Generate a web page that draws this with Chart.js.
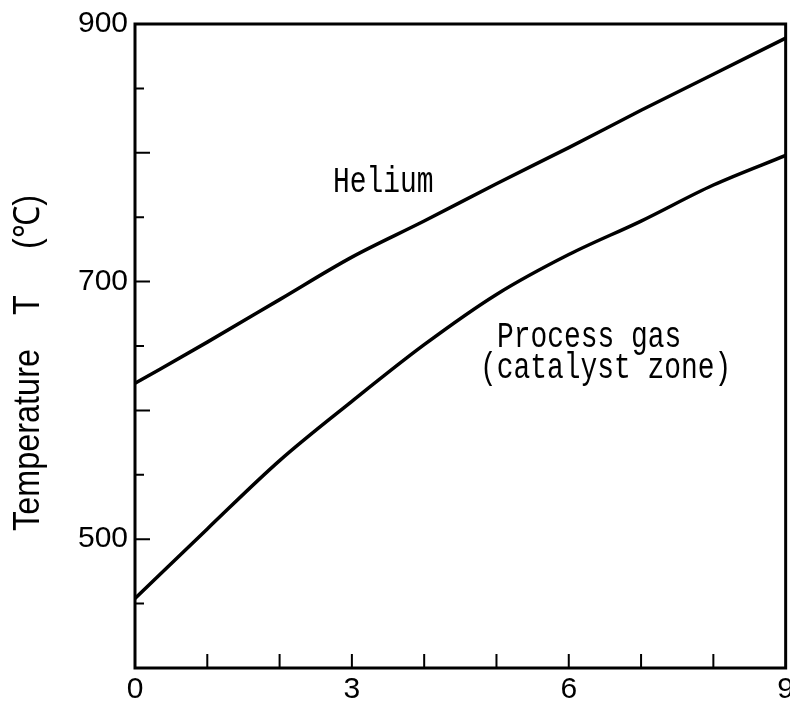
<!DOCTYPE html>
<html>
<head>
<meta charset="utf-8">
<script src="https://cdn.jsdelivr.net/npm/chart.js@4"></script>
<style>
  html, body { margin: 0; padding: 0; background: #fff; }
  #wrap { width: 790px; height: 706px; }
</style>
</head>
<body>
<div id="wrap"><canvas id="chart" width="790" height="706"></canvas></div>
<script>
// Distance (x axis, no label in the source) and temperatures
const distance = [0, 1, 2, 3, 4, 5, 6, 7, 8, 9];
const helium = [621, 653, 686, 719, 747, 776, 804, 833, 861, 889];
const processGas = [454, 508, 561, 607, 651, 690, 721, 747, 775, 798];
const xTickLabels = [0, 3, 6, 9];
const yTickLabels = [500, 700, 900];

const narrow = '"Liberation Sans Narrow", "Liberation Sans", sans-serif';

function toPoints(values) {
    return distance.map((d, i) => ({ x: d, y: values[i] }));
}

// Frame, inward tick marks, axis title and curve labels
const decorPlugin = {
    id: 'decor',
    afterDraw(chart) {
        const ctx = chart.ctx;
        const area = chart.chartArea;
        const xs = chart.scales.x;
        const ys = chart.scales.y;
        ctx.save();
        ctx.strokeStyle = '#000';
        ctx.lineWidth = 3;
        ctx.strokeRect(area.left, area.top, area.right - area.left, area.bottom - area.top);

        ctx.lineWidth = 2;
        ctx.beginPath();
        ys.ticks.forEach(t => {
            if (t.value <= ys.min || t.value >= ys.max) return;
            const py = ys.getPixelForValue(t.value);
            const len = t.value % 100 === 0 ? 15 : 9;
            ctx.moveTo(area.left, py);
            ctx.lineTo(area.left + len, py);
        });
        xs.ticks.forEach(t => {
            if (t.value <= xs.min || t.value >= xs.max) return;
            const px = xs.getPixelForValue(t.value);
            ctx.moveTo(px, area.bottom);
            ctx.lineTo(px, area.bottom - 14);
        });
        ctx.stroke();

        // rotated y title, narrowed a little
        ctx.fillStyle = '#000';
        ctx.font = '36px ' + narrow;
        ctx.textAlign = 'center';
        ctx.textBaseline = 'middle';
        const parts = [['Temperature', 440], ['T', 305], ['(\u2103)', 222]];
        parts.forEach(p => {
            ctx.save();
            ctx.translate(29, p[1]);
            ctx.rotate(-Math.PI / 2);
            ctx.scale(0.9, 1);
            ctx.fillText(p[0], 0, 0);
            ctx.restore();
        });

        // curve labels (typewriter style)
        ctx.textAlign = 'left';
        ctx.textBaseline = 'alphabetic';
        ctx.font = '36px "Liberation Mono", "DejaVu Sans Mono", monospace';
        const labels = [['Helium', 333, 192], ['Process gas', 497, 347], ['(catalyst zone)', 480, 378]];
        labels.forEach(l => {
            ctx.save();
            ctx.translate(l[1], l[2]);
            ctx.scale(0.775, 1);
            ctx.fillText(l[0], 0, 0);
            ctx.restore();
        });
        ctx.restore();
    }
};

const chart = new Chart(document.getElementById('chart'), {
    type: 'line',
    data: {
        datasets: [
            {
                label: 'Helium',
                data: toPoints(helium),
                borderColor: '#000',
                borderWidth: 3.5,
                pointRadius: 0,
                cubicInterpolationMode: 'monotone'
            },
            {
                label: 'Process gas (catalyst zone)',
                data: toPoints(processGas),
                borderColor: '#000',
                borderWidth: 3.5,
                pointRadius: 0,
                cubicInterpolationMode: 'monotone'
            }
        ]
    },
    options: {
        responsive: false,
        animation: false,
        layout: { padding: { top: 24, right: 4, left: 0, bottom: 0 } },
        plugins: {
            legend: { display: false },
            tooltip: { enabled: false }
        },
        scales: {
            x: {
                type: 'linear',
                min: 0,
                max: 9,
                grid: { display: false },
                border: { display: false },
                afterFit: s => { s.height = 38; },
                ticks: {
                    stepSize: 1,
                    padding: -4,
                    color: '#000',
                    font: { family: narrow, size: 30 },
                    maxRotation: 0,
                    autoSkip: false,
                    callback: v => xTickLabels.includes(v) ? String(v) : ''
                }
            },
            y: {
                min: 400,
                max: 900,
                grid: { display: false },
                border: { display: false },
                afterFit: s => { s.width = 135; },
                ticks: {
                    stepSize: 50,
                    padding: -1,
                    color: '#000',
                    font: { family: narrow, size: 30 },
                    autoSkip: false,
                    callback: v => yTickLabels.includes(v) ? String(v) : ''
                }
            }
        }
    },
    plugins: [decorPlugin]
});
</script>
</body>
</html>
